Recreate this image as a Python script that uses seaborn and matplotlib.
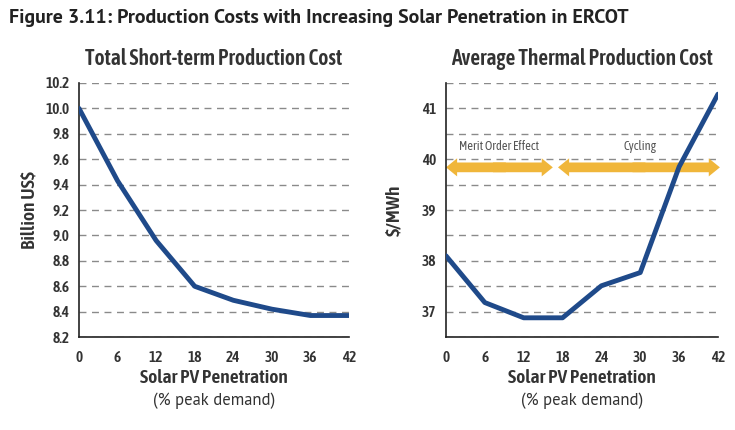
import matplotlib
matplotlib.use("Agg")
import matplotlib.pyplot as plt
from matplotlib.patches import FancyArrowPatch
import seaborn as sns
import pandas as pd

# ---- data ----
penetration = [0, 6, 12, 18, 24, 30, 36, 42]
total_cost = [10.0, 9.43, 8.96, 8.60, 8.49, 8.42, 8.37, 8.37]
avg_thermal_cost = [38.1, 37.18, 36.88, 36.88, 37.51, 37.77, 39.85, 41.28]
x_ticks = [0, 6, 12, 18, 24, 30, 36, 42]
left_yticks = [8.2, 8.4, 8.6, 8.8, 9.0, 9.2, 9.4, 9.6, 9.8, 10.0, 10.2]
right_yticks = [37, 38, 39, 40, 41]
right_grid = [36.5, 37.0, 37.5, 38.0, 38.5, 39.0, 39.5, 40.0, 40.5, 41.0, 41.5]
effects = ["Merit Order Effect", "Cycling"]
effect_spans = [(0, 16.5), (17.3, 42.3)]
effect_label_x = [8.2, 29.9]

sns.set_theme(style="white")
COND = ['Asap Condensed', 'DejaVu Sans']
SANS = ['PT Sans', 'Asap', 'DejaVu Sans']
plt.rcParams['font.family'] = COND

LINE = "#1f4a8a"
TXT = "#333333"
GRID = "#8a8a8a"
GOLD = "#f0b63a"

df = pd.DataFrame({"pen": penetration, "total": total_cost, "avg": avg_thermal_cost})

fig = plt.figure(figsize=(7.35, 4.3), dpi=100)
axL = fig.add_axes([0.1075, 0.216, 0.3673, 0.591])
axR = fig.add_axes([0.6068, 0.216, 0.370, 0.591])

sns.lineplot(data=df, x="pen", y="total", ax=axL, color=LINE, lw=3.5, zorder=3)
sns.lineplot(data=df, x="pen", y="avg", ax=axR, color=LINE, lw=3.5, zorder=3)

for ax in (axL, axR):
    ax.set_xlim(0, 42)
    ax.set_xticks(x_ticks)
    ax.set_xticklabels([str(v) for v in x_ticks], fontsize=11, fontweight='semibold', color=TXT)
    for s in ("top", "right"):
        ax.spines[s].set_visible(False)
    for s in ("left", "bottom"):
        ax.spines[s].set_color("#222222")
        ax.spines[s].set_linewidth(1.2)
    ax.tick_params(axis='x', direction='in', length=5, width=1.2, color="#222222", pad=10)
    ax.tick_params(axis='y', length=0, pad=7)
    ax.set_xlabel("Solar PV Penetration", fontsize=14, fontweight='semibold', color=TXT, labelpad=3)
    ax.yaxis.grid(True, linestyle=(0, (5, 4)), color=GRID, lw=1.0)
    ax.set_axisbelow(True)
    ax.text(0.5, -0.25, "(% peak demand)", transform=ax.transAxes, fontsize=12,
            family=SANS, color=TXT, ha='center', va='center')

axL.set_ylim(8.2, 10.2)
axL.set_yticks(left_yticks)
axL.set_yticklabels([f"{v:.1f}" for v in left_yticks], fontsize=11, fontweight='semibold', color=TXT)
axL.set_ylabel("Billion US\\$", fontsize=14, fontweight='semibold', color=TXT, labelpad=5)
axL.set_title("Total Short-term Production Cost", fontsize=15.5, fontweight='semibold', color=TXT, pad=13)

axR.set_ylim(36.5, 41.5)
axR.set_yticks(right_grid)
axR.set_yticklabels([str(int(v)) if v in right_yticks else "" for v in right_grid],
                    fontsize=11, fontweight='semibold', color=TXT)
axR.set_ylabel("\\$/MWh", fontsize=14, fontweight='semibold', color=TXT, labelpad=13)
axR.set_title("Average Thermal Production Cost", fontsize=15.5, fontweight='semibold', color=TXT, pad=13)

# effect arrows (double-headed, drawn as two overlapping simple arrows from the middle)
arrow_y = 39.84
for label, (x0, x1), lx in zip(effects, effect_spans, effect_label_x):
    mid = (x0 + x1) / 2
    for end, start in ((x0, mid + 1.0), (x1, mid - 1.0)):
        arr = FancyArrowPatch((start, arrow_y), (end, arrow_y),
                              arrowstyle="simple,head_length=8,head_width=13,tail_width=7",
                              mutation_scale=1, facecolor=GOLD, edgecolor='none',
                              shrinkA=0, shrinkB=0, clip_on=False, zorder=2)
        axR.add_patch(arr)
    axR.text(lx, 40.25, label, fontsize=9, color="#555555", ha='center', va='center')

fig.text(0.012, 0.958, "Figure 3.11: Production Costs with Increasing Solar Penetration in ERCOT",
         fontsize=14.3, fontweight='bold', family=SANS, color="#222222", ha='left', va='center')

fig.savefig("out.png", dpi=100)
